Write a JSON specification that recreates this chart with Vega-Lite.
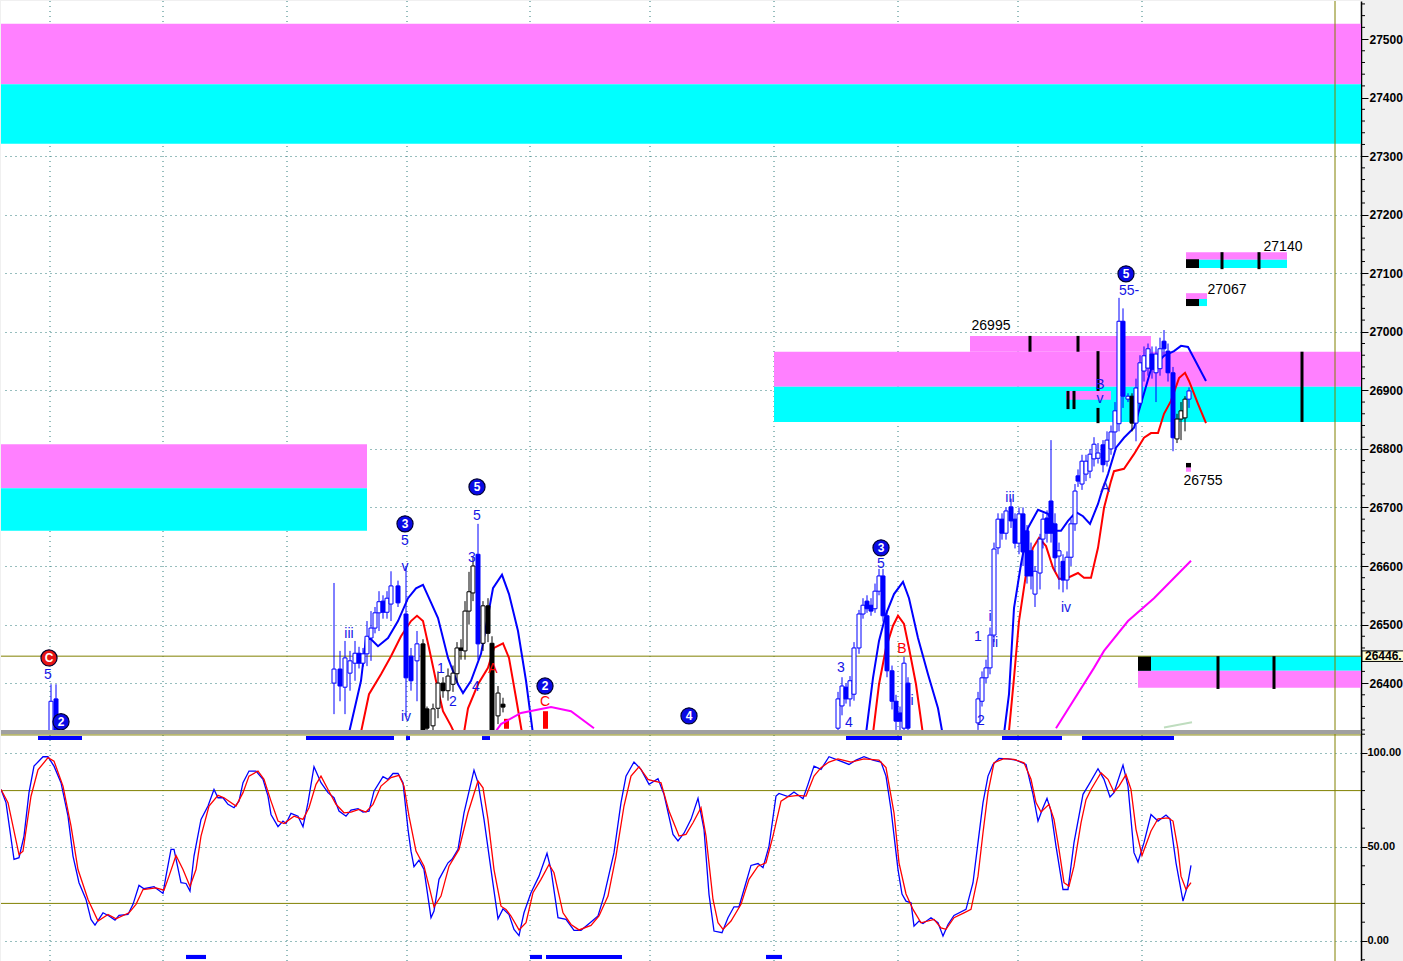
{
"$schema": "https://vega.github.io/schema/vega-lite/v6.json",
"padding": 0,
"autosize": {"type": "pad"},
"background": "#F0F0F0",
"spacing": 0,
"bounds": "flush",
"config": {
  "view": {"stroke": null, "fill": "#FFFFFF"},
  "axis": {"labelFont": "Liberation Sans", "labelFontWeight": "bold", "labelFontSize": 12, "labelColor": "#000000", "domainColor": "#000000", "domainWidth": 1.5, "tickColor": "#000000", "tickSize": 7, "labelPadding": 1, "gridColor": "#2E7D7D", "gridDash": [1, 4], "gridWidth": 1},
  "text": {"font": "Liberation Sans"}
},
"datasets": {
  "vgrid": [{"t":49},{"t":162},{"t":286},{"t":406},{"t":529},{"t":649},{"t":773},{"t":897},{"t":1017},{"t":1141}],
  "minorP": [{"p":26320},{"p":26340},{"p":26360},{"p":26380},{"p":26420},{"p":26440},{"p":26460},{"p":26480},{"p":26520},{"p":26540},{"p":26560},{"p":26580},{"p":26620},{"p":26640},{"p":26660},{"p":26680},{"p":26720},{"p":26740},{"p":26760},{"p":26780},{"p":26820},{"p":26840},{"p":26860},{"p":26880},{"p":26920},{"p":26940},{"p":26960},{"p":26980},{"p":27020},{"p":27040},{"p":27060},{"p":27080},{"p":27120},{"p":27140},{"p":27160},{"p":27180},{"p":27220},{"p":27240},{"p":27260},{"p":27280},{"p":27320},{"p":27340},{"p":27360},{"p":27380},{"p":27420},{"p":27440},{"p":27460},{"p":27480},{"p":27520},{"p":27540},{"p":27560}],
  "minorS": [{"v":-10},{"v":10},{"v":20},{"v":30},{"v":40},{"v":60},{"v":70},{"v":80},{"v":90},{"v":110}],
  "zones": [
    {"t1":0,"t2":1360,"p1":27423,"p2":27526,"k":"m"},
    {"t1":0,"t2":1360,"p1":27321,"p2":27423,"k":"c"},
    {"t1":0,"t2":366,"p1":26733,"p2":26808,"k":"m"},
    {"t1":0,"t2":366,"p1":26660,"p2":26733,"k":"c"},
    {"t1":773,"t2":1360,"p1":26906,"p2":26966,"k":"m"},
    {"t1":773,"t2":1360,"p1":26846,"p2":26906,"k":"c"},
    {"t1":969,"t2":1150,"p1":26966,"p2":26993,"k":"m"},
    {"t1":1065,"t2":1110,"p1":26884,"p2":26899,"k":"m"},
    {"t1":1185,"t2":1286,"p1":27123,"p2":27136,"k":"m"},
    {"t1":1198,"t2":1286,"p1":27109,"p2":27123,"k":"c"},
    {"t1":1185,"t2":1198,"p1":27109,"p2":27124,"k":"k"},
    {"t1":1185,"t2":1206,"p1":27056,"p2":27066,"k":"m"},
    {"t1":1198,"t2":1206,"p1":27044,"p2":27056,"k":"c"},
    {"t1":1185,"t2":1198,"p1":27044,"p2":27056,"k":"k"},
    {"t1":1185,"t2":1190,"p1":26768,"p2":26776,"k":"k"},
    {"t1":1185,"t2":1190,"p1":26761,"p2":26768,"k":"m"},
    {"t1":1137,"t2":1360,"p1":26421,"p2":26446,"k":"c"},
    {"t1":1137,"t2":1360,"p1":26392,"p2":26421,"k":"m"},
    {"t1":1137,"t2":1150,"p1":26421,"p2":26446,"k":"k"},
    {"t1":503,"t2":508,"p1":26322,"p2":26339,"k":"r"},
    {"t1":542,"t2":547,"p1":26322,"p2":26352,"k":"r"}
  ],
  "ticks": [
    {"t":1029,"p1":26966,"p2":26993},
    {"t":1077,"p1":26966,"p2":26993},
    {"t":1067,"p1":26868,"p2":26899},
    {"t":1073,"p1":26868,"p2":26899},
    {"t":1097,"p1":26899,"p2":26967},
    {"t":1097,"p1":26844,"p2":26870},
    {"t":1301,"p1":26846,"p2":26966},
    {"t":1221,"p1":27107,"p2":27136},
    {"t":1258,"p1":27107,"p2":27136},
    {"t":1217,"p1":26390,"p2":26446},
    {"t":1273,"p1":26390,"p2":26446}
  ],
  "bands": [
    {"s":"uA","kind":"hi","t":346,"p":26300},{"s":"uA","kind":"hi","t":360,"p":26404},{"s":"uA","kind":"hi","t":365,"p":26477},{"s":"uA","kind":"hi","t":370,"p":26475},{"s":"uA","kind":"hi","t":377,"p":26463},{"s":"uA","kind":"hi","t":387,"p":26477},{"s":"uA","kind":"hi","t":397,"p":26506},{"s":"uA","kind":"hi","t":407,"p":26545},{"s":"uA","kind":"hi","t":415,"p":26562},{"s":"uA","kind":"hi","t":422,"p":26568},{"s":"uA","kind":"hi","t":427,"p":26549},{"s":"uA","kind":"hi","t":437,"p":26511},{"s":"uA","kind":"hi","t":447,"p":26443},{"s":"uA","kind":"hi","t":457,"p":26398},{"s":"uA","kind":"hi","t":462,"p":26383},{"s":"uA","kind":"hi","t":470,"p":26404},{"s":"uA","kind":"hi","t":480,"p":26450},{"s":"uA","kind":"hi","t":492,"p":26562},{"s":"uA","kind":"hi","t":501,"p":26585},{"s":"uA","kind":"hi","t":508,"p":26552},{"s":"uA","kind":"hi","t":517,"p":26489},{"s":"uA","kind":"hi","t":525,"p":26404},{"s":"uA","kind":"hi","t":533,"p":26300},
    {"s":"lA","kind":"lo","t":358,"p":26300},{"s":"lA","kind":"lo","t":368,"p":26381},{"s":"lA","kind":"lo","t":380,"p":26415},{"s":"lA","kind":"lo","t":390,"p":26446},{"s":"lA","kind":"lo","t":400,"p":26480},{"s":"lA","kind":"lo","t":410,"p":26506},{"s":"lA","kind":"lo","t":416,"p":26515},{"s":"lA","kind":"lo","t":422,"p":26506},{"s":"lA","kind":"lo","t":428,"p":26460},{"s":"lA","kind":"lo","t":435,"p":26404},{"s":"lA","kind":"lo","t":442,"p":26352},{"s":"lA","kind":"lo","t":450,"p":26327},{"s":"lA","kind":"lo","t":456,"p":26305},{"s":"lA","kind":"lo","t":462,"p":26305},{"s":"lA","kind":"lo","t":467,"p":26357},{"s":"lA","kind":"lo","t":477,"p":26398},{"s":"lA","kind":"lo","t":487,"p":26426},{"s":"lA","kind":"lo","t":493,"p":26460},{"s":"lA","kind":"lo","t":502,"p":26468},{"s":"lA","kind":"lo","t":508,"p":26443},{"s":"lA","kind":"lo","t":515,"p":26375},{"s":"lA","kind":"lo","t":522,"p":26305},
    {"s":"uB","kind":"hi","t":864,"p":26300},{"s":"uB","kind":"hi","t":872,"p":26409},{"s":"uB","kind":"hi","t":878,"p":26472},{"s":"uB","kind":"hi","t":885,"p":26518},{"s":"uB","kind":"hi","t":893,"p":26552},{"s":"uB","kind":"hi","t":902,"p":26573},{"s":"uB","kind":"hi","t":908,"p":26545},{"s":"uB","kind":"hi","t":917,"p":26477},{"s":"uB","kind":"hi","t":927,"p":26415},{"s":"uB","kind":"hi","t":937,"p":26357},{"s":"uB","kind":"hi","t":943,"p":26300},
    {"s":"lB","kind":"lo","t":871,"p":26300},{"s":"lB","kind":"lo","t":878,"p":26398},{"s":"lB","kind":"lo","t":885,"p":26460},{"s":"lB","kind":"lo","t":892,"p":26498},{"s":"lB","kind":"lo","t":897,"p":26515},{"s":"lB","kind":"lo","t":903,"p":26501},{"s":"lB","kind":"lo","t":908,"p":26460},{"s":"lB","kind":"lo","t":915,"p":26398},{"s":"lB","kind":"lo","t":923,"p":26300},
    {"s":"uC","kind":"hi","t":1002,"p":26300},{"s":"uC","kind":"hi","t":1008,"p":26381},{"s":"uC","kind":"hi","t":1013,"p":26528},{"s":"uC","kind":"hi","t":1020,"p":26603},{"s":"uC","kind":"hi","t":1027,"p":26665},{"s":"uC","kind":"hi","t":1037,"p":26696},{"s":"uC","kind":"hi","t":1047,"p":26689},{"s":"uC","kind":"hi","t":1055,"p":26660},{"s":"uC","kind":"hi","t":1060,"p":26660},{"s":"uC","kind":"hi","t":1067,"p":26677},{"s":"uC","kind":"hi","t":1075,"p":26692},{"s":"uC","kind":"hi","t":1082,"p":26685},{"s":"uC","kind":"hi","t":1089,"p":26672},{"s":"uC","kind":"hi","t":1097,"p":26706},{"s":"uC","kind":"hi","t":1100,"p":26723},{"s":"uC","kind":"hi","t":1107,"p":26757},{"s":"uC","kind":"hi","t":1115,"p":26802},{"s":"uC","kind":"hi","t":1123,"p":26819},{"s":"uC","kind":"hi","t":1133,"p":26836},{"s":"uC","kind":"hi","t":1140,"p":26877},{"s":"uC","kind":"hi","t":1150,"p":26936},{"s":"uC","kind":"hi","t":1163,"p":26959},{"s":"uC","kind":"hi","t":1173,"p":26967},{"s":"uC","kind":"hi","t":1180,"p":26976},{"s":"uC","kind":"hi","t":1187,"p":26974},{"s":"uC","kind":"hi","t":1193,"p":26955},{"s":"uC","kind":"hi","t":1205,"p":26916},
    {"s":"lC","kind":"lo","t":1007,"p":26300},{"s":"lC","kind":"lo","t":1013,"p":26409},{"s":"lC","kind":"lo","t":1018,"p":26506},{"s":"lC","kind":"lo","t":1025,"p":26586},{"s":"lC","kind":"lo","t":1032,"p":26631},{"s":"lC","kind":"lo","t":1038,"p":26648},{"s":"lC","kind":"lo","t":1045,"p":26634},{"s":"lC","kind":"lo","t":1052,"p":26597},{"s":"lC","kind":"lo","t":1058,"p":26578},{"s":"lC","kind":"lo","t":1067,"p":26580},{"s":"lC","kind":"lo","t":1077,"p":26588},{"s":"lC","kind":"lo","t":1083,"p":26580},{"s":"lC","kind":"lo","t":1090,"p":26580},{"s":"lC","kind":"lo","t":1097,"p":26631},{"s":"lC","kind":"lo","t":1103,"p":26699},{"s":"lC","kind":"lo","t":1110,"p":26745},{"s":"lC","kind":"lo","t":1113,"p":26762},{"s":"lC","kind":"lo","t":1123,"p":26766},{"s":"lC","kind":"lo","t":1133,"p":26791},{"s":"lC","kind":"lo","t":1143,"p":26819},{"s":"lC","kind":"lo","t":1150,"p":26827},{"s":"lC","kind":"lo","t":1157,"p":26827},{"s":"lC","kind":"lo","t":1163,"p":26860},{"s":"lC","kind":"lo","t":1170,"p":26882},{"s":"lC","kind":"lo","t":1178,"p":26921},{"s":"lC","kind":"lo","t":1184,"p":26930},{"s":"lC","kind":"lo","t":1188,"p":26916},{"s":"lC","kind":"lo","t":1197,"p":26877},{"s":"lC","kind":"lo","t":1205,"p":26844},
    {"s":"mA","kind":"ma","t":495,"p":26318},{"s":"mA","kind":"ma","t":500,"p":26330},{"s":"mA","kind":"ma","t":520,"p":26349},{"s":"mA","kind":"ma","t":550,"p":26359},{"s":"mA","kind":"ma","t":570,"p":26352},{"s":"mA","kind":"ma","t":593,"p":26323},
    {"s":"mB","kind":"ma","t":1055,"p":26323},{"s":"mB","kind":"ma","t":1093,"p":26426},{"s":"mB","kind":"ma","t":1103,"p":26455},{"s":"mB","kind":"ma","t":1127,"p":26506},{"s":"mB","kind":"ma","t":1153,"p":26545},{"s":"mB","kind":"ma","t":1190,"p":26609},
    {"s":"gA","kind":"aux","t":1163,"p":26324},{"s":"gA","kind":"aux","t":1191,"p":26333}
  ],
  "candles": [
    {"t":50,"o":26316,"h":26398,"l":26300,"c":26369,"g":"b"},
    {"t":55,"o":26373,"h":26398,"l":26300,"c":26310,"g":"b"},
    {"t":333,"o":26400,"h":26571,"l":26347,"c":26424,"g":"b"},
    {"t":339,"o":26424,"h":26455,"l":26369,"c":26395,"g":"b"},
    {"t":344,"o":26393,"h":26472,"l":26347,"c":26443,"g":"b"},
    {"t":349,"o":26417,"h":26455,"l":26387,"c":26438,"g":"b"},
    {"t":354,"o":26434,"h":26472,"l":26404,"c":26451,"g":"b"},
    {"t":358,"o":26451,"h":26462,"l":26425,"c":26434,"g":"b"},
    {"t":362,"o":26434,"h":26460,"l":26428,"c":26450,"g":"b"},
    {"t":366,"o":26450,"h":26506,"l":26429,"c":26480,"g":"b"},
    {"t":370,"o":26477,"h":26523,"l":26438,"c":26494,"g":"b"},
    {"t":374,"o":26494,"h":26530,"l":26485,"c":26520,"g":"b"},
    {"t":378,"o":26520,"h":26557,"l":26489,"c":26539,"g":"b"},
    {"t":382,"o":26540,"h":26550,"l":26510,"c":26521,"g":"b"},
    {"t":386,"o":26521,"h":26557,"l":26510,"c":26545,"g":"b"},
    {"t":390,"o":26535,"h":26591,"l":26506,"c":26566,"g":"b"},
    {"t":397,"o":26566,"h":26575,"l":26530,"c":26537,"g":"b"},
    {"t":405,"o":26518,"h":26600,"l":26344,"c":26409,"g":"b"},
    {"t":410,"o":26446,"h":26460,"l":26387,"c":26404,"g":"b"},
    {"t":416,"o":26438,"h":26489,"l":26369,"c":26467,"g":"b"},
    {"t":422,"o":26467,"h":26475,"l":26290,"c":26300,"g":"k"},
    {"t":426,"o":26356,"h":26360,"l":26310,"c":26323,"g":"k"},
    {"t":432,"o":26327,"h":26365,"l":26310,"c":26356,"g":"k"},
    {"t":437,"o":26357,"h":26420,"l":26340,"c":26400,"g":"k"},
    {"t":442,"o":26400,"h":26410,"l":26375,"c":26387,"g":"k"},
    {"t":447,"o":26387,"h":26425,"l":26370,"c":26412,"g":"k"},
    {"t":452,"o":26398,"h":26430,"l":26385,"c":26417,"g":"k"},
    {"t":456,"o":26416,"h":26470,"l":26400,"c":26460,"g":"k"},
    {"t":460,"o":26460,"h":26475,"l":26440,"c":26456,"g":"k"},
    {"t":464,"o":26455,"h":26540,"l":26440,"c":26523,"g":"k"},
    {"t":468,"o":26523,"h":26590,"l":26500,"c":26556,"g":"k"},
    {"t":472,"o":26554,"h":26615,"l":26540,"c":26600,"g":"k"},
    {"t":477,"o":26620,"h":26672,"l":26440,"c":26467,"g":"b"},
    {"t":482,"o":26468,"h":26540,"l":26455,"c":26532,"g":"k"},
    {"t":487,"o":26532,"h":26545,"l":26470,"c":26485,"g":"k"},
    {"t":491,"o":26468,"h":26480,"l":26300,"c":26310,"g":"k"},
    {"t":497,"o":26344,"h":26395,"l":26330,"c":26383,"g":"k"},
    {"t":502,"o":26364,"h":26375,"l":26350,"c":26359,"g":"k"},
    {"t":837,"o":26323,"h":26385,"l":26310,"c":26373,"g":"b"},
    {"t":841,"o":26361,"h":26410,"l":26345,"c":26395,"g":"b"},
    {"t":845,"o":26393,"h":26400,"l":26365,"c":26373,"g":"b"},
    {"t":849,"o":26373,"h":26412,"l":26360,"c":26404,"g":"b"},
    {"t":853,"o":26381,"h":26470,"l":26370,"c":26460,"g":"b"},
    {"t":858,"o":26460,"h":26525,"l":26450,"c":26518,"g":"b"},
    {"t":862,"o":26518,"h":26545,"l":26510,"c":26533,"g":"b"},
    {"t":866,"o":26540,"h":26550,"l":26520,"c":26527,"g":"b"},
    {"t":870,"o":26533,"h":26545,"l":26515,"c":26523,"g":"b"},
    {"t":874,"o":26527,"h":26570,"l":26520,"c":26557,"g":"b"},
    {"t":878,"o":26557,"h":26595,"l":26550,"c":26583,"g":"b"},
    {"t":882,"o":26583,"h":26595,"l":26505,"c":26515,"g":"b"},
    {"t":886,"o":26515,"h":26525,"l":26410,"c":26421,"g":"b"},
    {"t":891,"o":26421,"h":26430,"l":26355,"c":26369,"g":"b"},
    {"t":895,"o":26369,"h":26380,"l":26320,"c":26335,"g":"b"},
    {"t":899,"o":26349,"h":26360,"l":26315,"c":26335,"g":"b"},
    {"t":903,"o":26323,"h":26445,"l":26310,"c":26434,"g":"b"},
    {"t":907,"o":26400,"h":26410,"l":26310,"c":26323,"g":"b"},
    {"t":977,"o":26332,"h":26385,"l":26320,"c":26373,"g":"b"},
    {"t":981,"o":26369,"h":26420,"l":26360,"c":26409,"g":"b"},
    {"t":985,"o":26409,"h":26440,"l":26400,"c":26426,"g":"b"},
    {"t":989,"o":26426,"h":26495,"l":26415,"c":26482,"g":"b"},
    {"t":993,"o":26482,"h":26640,"l":26470,"c":26629,"g":"b"},
    {"t":997,"o":26631,"h":26690,"l":26620,"c":26680,"g":"b"},
    {"t":1001,"o":26680,"h":26690,"l":26645,"c":26656,"g":"b"},
    {"t":1005,"o":26656,"h":26700,"l":26645,"c":26694,"g":"b"},
    {"t":1010,"o":26701,"h":26715,"l":26665,"c":26677,"g":"b"},
    {"t":1014,"o":26680,"h":26690,"l":26630,"c":26639,"g":"b"},
    {"t":1018,"o":26639,"h":26700,"l":26620,"c":26689,"g":"b"},
    {"t":1022,"o":26689,"h":26700,"l":26600,"c":26624,"g":"b"},
    {"t":1026,"o":26660,"h":26670,"l":26570,"c":26583,"g":"b"},
    {"t":1030,"o":26626,"h":26640,"l":26560,"c":26583,"g":"b"},
    {"t":1034,"o":26552,"h":26600,"l":26530,"c":26591,"g":"b"},
    {"t":1039,"o":26588,"h":26655,"l":26560,"c":26646,"g":"b"},
    {"t":1042,"o":26646,"h":26690,"l":26630,"c":26680,"g":"b"},
    {"t":1046,"o":26682,"h":26695,"l":26640,"c":26656,"g":"b"},
    {"t":1050,"o":26711,"h":26815,"l":26640,"c":26656,"g":"b"},
    {"t":1054,"o":26672,"h":26690,"l":26590,"c":26614,"g":"b"},
    {"t":1058,"o":26617,"h":26640,"l":26560,"c":26626,"g":"b"},
    {"t":1062,"o":26608,"h":26620,"l":26555,"c":26576,"g":"b"},
    {"t":1066,"o":26576,"h":26625,"l":26560,"c":26615,"g":"b"},
    {"t":1070,"o":26615,"h":26680,"l":26600,"c":26672,"g":"b"},
    {"t":1074,"o":26672,"h":26740,"l":26660,"c":26728,"g":"b"},
    {"t":1077,"o":26754,"h":26765,"l":26735,"c":26745,"g":"b"},
    {"t":1081,"o":26740,"h":26790,"l":26730,"c":26779,"g":"b"},
    {"t":1085,"o":26757,"h":26790,"l":26745,"c":26779,"g":"b"},
    {"t":1089,"o":26762,"h":26800,"l":26750,"c":26791,"g":"b"},
    {"t":1093,"o":26783,"h":26820,"l":26770,"c":26808,"g":"b"},
    {"t":1097,"o":26784,"h":26810,"l":26775,"c":26793,"g":"b"},
    {"t":1102,"o":26807,"h":26815,"l":26760,"c":26773,"g":"b"},
    {"t":1106,"o":26779,"h":26830,"l":26770,"c":26815,"g":"b"},
    {"t":1110,"o":26800,"h":26840,"l":26790,"c":26829,"g":"b"},
    {"t":1114,"o":26829,"h":26880,"l":26800,"c":26865,"g":"b"},
    {"t":1118,"o":26843,"h":27058,"l":26830,"c":27018,"g":"b"},
    {"t":1122,"o":27018,"h":27040,"l":26870,"c":26890,"g":"b"},
    {"t":1127,"o":26885,"h":26895,"l":26880,"c":26890,"g":"b"},
    {"t":1131,"o":26890,"h":26895,"l":26830,"c":26844,"g":"k"},
    {"t":1135,"o":26844,"h":26920,"l":26813,"c":26904,"g":"b"},
    {"t":1139,"o":26878,"h":26960,"l":26870,"c":26947,"g":"b"},
    {"t":1143,"o":26933,"h":26975,"l":26915,"c":26959,"g":"b"},
    {"t":1147,"o":26938,"h":26980,"l":26925,"c":26971,"g":"b"},
    {"t":1151,"o":26962,"h":26975,"l":26920,"c":26936,"g":"b"},
    {"t":1155,"o":26930,"h":26975,"l":26880,"c":26962,"g":"b"},
    {"t":1159,"o":26937,"h":26990,"l":26925,"c":26971,"g":"b"},
    {"t":1163,"o":26984,"h":27003,"l":26960,"c":26971,"g":"b"},
    {"t":1167,"o":26967,"h":26980,"l":26915,"c":26930,"g":"b"},
    {"t":1172,"o":26930,"h":26940,"l":26796,"c":26819,"g":"b"},
    {"t":1176,"o":26817,"h":26860,"l":26810,"c":26851,"g":"k"},
    {"t":1180,"o":26851,"h":26880,"l":26815,"c":26865,"g":"k"},
    {"t":1184,"o":26853,"h":26890,"l":26830,"c":26885,"g":"k"},
    {"t":1188,"o":26885,"h":26905,"l":26870,"c":26899,"g":"b"}
  ],
  "labels": [
    {"t":47,"p":26414,"txt":"5","k":"wave"},
    {"t":348,"p":26484,"txt":"iii","k":"wave"},
    {"t":404,"p":26643,"txt":"5","k":"wave"},
    {"t":404,"p":26598,"txt":"v","k":"wave"},
    {"t":405,"p":26342,"txt":"iv","k":"wave"},
    {"t":440,"p":26424,"txt":"1","k":"wave"},
    {"t":452,"p":26368,"txt":"2","k":"wave"},
    {"t":471,"p":26614,"txt":"3","k":"wave"},
    {"t":476,"p":26685,"txt":"5","k":"wave"},
    {"t":475,"p":26393,"txt":"4","k":"wave"},
    {"t":840,"p":26426,"txt":"3","k":"wave"},
    {"t":848,"p":26332,"txt":"4","k":"wave"},
    {"t":880,"p":26603,"txt":"5","k":"wave"},
    {"t":911,"p":26369,"txt":"i","k":"wave"},
    {"t":977,"p":26479,"txt":"1","k":"wave"},
    {"t":980,"p":26335,"txt":"2","k":"wave"},
    {"t":989,"p":26513,"txt":"i","k":"wave"},
    {"t":994,"p":26468,"txt":"ii","k":"wave"},
    {"t":1009,"p":26716,"txt":"iii","k":"wave"},
    {"t":1065,"p":26528,"txt":"iv","k":"wave"},
    {"t":1104,"p":26733,"txt":"A","k":"wave"},
    {"t":1099,"p":26909,"txt":"B","k":"wave"},
    {"t":1099,"p":26885,"txt":"v","k":"wave"},
    {"t":1128,"p":27070,"txt":"55-","k":"wave"},
    {"t":492,"p":26424,"txt":"A","k":"corr"},
    {"t":901,"p":26458,"txt":"B","k":"corr"},
    {"t":544,"p":26368,"txt":"C","k":"corr"},
    {"t":990,"p":27010,"txt":"26995","k":"level"},
    {"t":1282,"p":27145,"txt":"27140","k":"level"},
    {"t":1226,"p":27071,"txt":"27067","k":"level"},
    {"t":1202,"p":26745,"txt":"26755","k":"level"}
  ],
  "circles": [
    {"t":404,"p":26672,"txt":"3","k":"up"},
    {"t":476,"p":26735,"txt":"5","k":"up"},
    {"t":544,"p":26395,"txt":"2","k":"up"},
    {"t":688,"p":26344,"txt":"4","k":"up"},
    {"t":880,"p":26631,"txt":"3","k":"up"},
    {"t":1125,"p":27099,"txt":"5","k":"up"},
    {"t":60,"p":26334,"txt":"2","k":"up"},
    {"t":48,"p":26443,"txt":"C","k":"down"}
  ],
  "stochK": [
    {"t":0,"v":80.6},{"t":5,"v":73.6},{"t":13,"v":43.4},{"t":18,"v":44.3},{"t":23,"v":55.8},{"t":28,"v":78.9},{"t":33,"v":93},{"t":42,"v":98},{"t":47,"v":98},{"t":53,"v":93},{"t":60,"v":84.2},{"t":67,"v":66.4},{"t":72,"v":45.2},{"t":78,"v":31},{"t":85,"v":22.1},{"t":90,"v":11.5},{"t":94,"v":8.5},{"t":102,"v":15},{"t":108,"v":13.3},{"t":114,"v":11.1},{"t":118,"v":13.6},{"t":127,"v":14.1},{"t":132,"v":19.5},{"t":138,"v":29.6},{"t":143,"v":27.8},{"t":153,"v":28.9},{"t":162,"v":25.3},{"t":165,"v":34.5},{"t":170,"v":48.7},{"t":173,"v":48.7},{"t":180,"v":31},{"t":185,"v":30.6},{"t":189,"v":26.6},{"t":193,"v":45.2},{"t":200,"v":64.7},{"t":207,"v":71.8},{"t":213,"v":80.6},{"t":217,"v":76.2},{"t":222,"v":76.2},{"t":227,"v":72.7},{"t":233,"v":70.9},{"t":238,"v":74.4},{"t":242,"v":84.2},{"t":248,"v":90.4},{"t":255,"v":90.4},{"t":262,"v":86},{"t":267,"v":77.1},{"t":270,"v":67.3},{"t":277,"v":60.8},{"t":282,"v":63.8},{"t":285,"v":62.5},{"t":290,"v":67.9},{"t":297,"v":66.4},{"t":302,"v":60.8},{"t":307,"v":73.6},{"t":313,"v":92.7},{"t":320,"v":84.2},{"t":327,"v":78.9},{"t":333,"v":76.2},{"t":338,"v":69.1},{"t":345,"v":66.4},{"t":350,"v":69.6},{"t":357,"v":70.4},{"t":362,"v":68.6},{"t":368,"v":69.1},{"t":373,"v":79.7},{"t":382,"v":87.4},{"t":387,"v":86},{"t":392,"v":89.1},{"t":397,"v":89.1},{"t":402,"v":84.2},{"t":407,"v":59.4},{"t":410,"v":47.8},{"t":413,"v":39.5},{"t":418,"v":43},{"t":423,"v":38},{"t":430,"v":12.4},{"t":433,"v":15.9},{"t":438,"v":32.8},{"t":447,"v":41.6},{"t":451,"v":43.5},{"t":457,"v":48.7},{"t":463,"v":68.2},{"t":473,"v":90.9},{"t":477,"v":84.2},{"t":483,"v":64.7},{"t":490,"v":38},{"t":497,"v":11.8},{"t":502,"v":17.1},{"t":508,"v":14.1},{"t":513,"v":6.1},{"t":518,"v":2.9},{"t":523,"v":15},{"t":530,"v":25.7},{"t":538,"v":34.5},{"t":546,"v":46.6},{"t":550,"v":38},{"t":557,"v":12.4},{"t":565,"v":11.5},{"t":573,"v":5.7},{"t":580,"v":5.7},{"t":590,"v":10.1},{"t":597,"v":13.3},{"t":603,"v":23.9},{"t":613,"v":47},{"t":620,"v":73.6},{"t":625,"v":87.7},{"t":633,"v":95.2},{"t":640,"v":91.3},{"t":648,"v":83.3},{"t":657,"v":86.3},{"t":663,"v":78},{"t":672,"v":56.7},{"t":677,"v":53.2},{"t":683,"v":57.3},{"t":690,"v":64.7},{"t":697,"v":75.9},{"t":703,"v":59.4},{"t":708,"v":24.8},{"t":713,"v":5.3},{"t":721,"v":4.4},{"t":727,"v":12.4},{"t":733,"v":18.2},{"t":738,"v":18.2},{"t":743,"v":27.4},{"t":750,"v":40.2},{"t":757,"v":41.2},{"t":762,"v":39},{"t":768,"v":50.5},{"t":775,"v":77.1},{"t":778,"v":78.5},{"t":787,"v":76.8},{"t":793,"v":79.2},{"t":802,"v":75.7},{"t":807,"v":83.3},{"t":813,"v":93},{"t":820,"v":91.3},{"t":828,"v":98},{"t":837,"v":96.2},{"t":848,"v":93.9},{"t":855,"v":96.2},{"t":863,"v":98},{"t":872,"v":96.2},{"t":880,"v":95.2},{"t":885,"v":87.7},{"t":890,"v":70},{"t":897,"v":38},{"t":901,"v":25},{"t":905,"v":21.2},{"t":910,"v":20.3},{"t":913,"v":7.9},{"t":918,"v":10.6},{"t":922,"v":9.3},{"t":930,"v":12.4},{"t":937,"v":9.7},{"t":942,"v":2.6},{"t":947,"v":8.8},{"t":953,"v":13.6},{"t":965,"v":16.8},{"t":972,"v":31},{"t":977,"v":52.3},{"t":982,"v":73.6},{"t":987,"v":87.7},{"t":992,"v":93.9},{"t":998,"v":97.1},{"t":1007,"v":96.9},{"t":1015,"v":96.2},{"t":1025,"v":93.9},{"t":1032,"v":78},{"t":1037,"v":63.8},{"t":1042,"v":70.9},{"t":1046,"v":75.9},{"t":1050,"v":69.1},{"t":1055,"v":50.5},{"t":1062,"v":27.4},{"t":1067,"v":27.4},{"t":1073,"v":52.3},{"t":1082,"v":78},{"t":1088,"v":83.3},{"t":1097,"v":91.6},{"t":1103,"v":86},{"t":1109,"v":76.6},{"t":1113,"v":78.9},{"t":1122,"v":93.6},{"t":1127,"v":82.4},{"t":1133,"v":47},{"t":1137,"v":42},{"t":1143,"v":52.3},{"t":1150,"v":67.3},{"t":1157,"v":63.8},{"t":1165,"v":67},{"t":1169,"v":65},{"t":1175,"v":41.6},{"t":1182,"v":21.2},{"t":1186,"v":28.4},{"t":1190,"v":40.2}
  ],
  "stochD": [
    {"t":0,"v":80.6},{"t":7,"v":73.6},{"t":18,"v":46},{"t":22,"v":47.8},{"t":30,"v":77},{"t":37,"v":91},{"t":47,"v":97.5},{"t":53,"v":95.7},{"t":62,"v":82.4},{"t":70,"v":61.2},{"t":77,"v":38},{"t":87,"v":22.1},{"t":97,"v":10.6},{"t":107,"v":14.1},{"t":115,"v":11.8},{"t":128,"v":15},{"t":135,"v":19.5},{"t":142,"v":27.4},{"t":155,"v":28.3},{"t":163,"v":27},{"t":168,"v":34.5},{"t":175,"v":45.5},{"t":182,"v":38},{"t":189,"v":29},{"t":195,"v":38},{"t":200,"v":55.8},{"t":208,"v":71.8},{"t":217,"v":77.5},{"t":223,"v":76.2},{"t":235,"v":71.8},{"t":242,"v":78.9},{"t":248,"v":87.7},{"t":257,"v":90.4},{"t":263,"v":86},{"t":270,"v":74.4},{"t":277,"v":63.8},{"t":283,"v":62.5},{"t":293,"v":66.4},{"t":302,"v":64.7},{"t":308,"v":70.9},{"t":315,"v":83.3},{"t":320,"v":87.7},{"t":327,"v":80.6},{"t":335,"v":72.7},{"t":343,"v":68.2},{"t":350,"v":68.6},{"t":358,"v":70},{"t":365,"v":68.6},{"t":372,"v":72.7},{"t":380,"v":82.4},{"t":390,"v":86.9},{"t":398,"v":88.1},{"t":403,"v":82.4},{"t":408,"v":66.4},{"t":415,"v":47.8},{"t":423,"v":39.8},{"t":428,"v":29.2},{"t":433,"v":18.2},{"t":440,"v":23.9},{"t":448,"v":39.8},{"t":458,"v":48.7},{"t":467,"v":68.2},{"t":477,"v":85.1},{"t":482,"v":81.5},{"t":487,"v":64.7},{"t":493,"v":38},{"t":500,"v":18.5},{"t":505,"v":16.8},{"t":510,"v":13.3},{"t":518,"v":5.9},{"t":525,"v":9.7},{"t":532,"v":25.7},{"t":540,"v":32.8},{"t":548,"v":40.7},{"t":553,"v":36.3},{"t":562,"v":15},{"t":570,"v":8.8},{"t":578,"v":5.9},{"t":590,"v":8.3},{"t":598,"v":13.3},{"t":607,"v":23.9},{"t":615,"v":45.2},{"t":623,"v":71.8},{"t":630,"v":87.7},{"t":638,"v":92.7},{"t":647,"v":86},{"t":653,"v":85.1},{"t":660,"v":84.2},{"t":668,"v":69.1},{"t":678,"v":55.8},{"t":685,"v":56.7},{"t":692,"v":62.9},{"t":700,"v":70.9},{"t":705,"v":55.8},{"t":712,"v":22.1},{"t":717,"v":9.7},{"t":722,"v":6.2},{"t":730,"v":10.6},{"t":740,"v":19.5},{"t":748,"v":32.8},{"t":757,"v":39.8},{"t":765,"v":41.6},{"t":772,"v":55.8},{"t":780,"v":74.4},{"t":787,"v":76.8},{"t":797,"v":77.5},{"t":805,"v":77.1},{"t":813,"v":87.7},{"t":820,"v":92.2},{"t":828,"v":95.2},{"t":837,"v":96.9},{"t":850,"v":95.2},{"t":863,"v":96.9},{"t":878,"v":96.2},{"t":885,"v":92.2},{"t":893,"v":68.2},{"t":898,"v":41.6},{"t":905,"v":25},{"t":912,"v":16.8},{"t":920,"v":9.7},{"t":933,"v":11.5},{"t":940,"v":7},{"t":945,"v":6.2},{"t":953,"v":12.4},{"t":963,"v":15},{"t":970,"v":16.8},{"t":977,"v":34.5},{"t":982,"v":57.6},{"t":987,"v":79},{"t":993,"v":94.8},{"t":1003,"v":97},{"t":1013,"v":96.6},{"t":1023,"v":94.8},{"t":1030,"v":86},{"t":1035,"v":73.6},{"t":1040,"v":68.6},{"t":1048,"v":72.7},{"t":1053,"v":64.7},{"t":1058,"v":48.7},{"t":1063,"v":31},{"t":1068,"v":29.2},{"t":1073,"v":39.8},{"t":1080,"v":62.8},{"t":1085,"v":75.2},{"t":1090,"v":80.6},{"t":1100,"v":89.5},{"t":1107,"v":86},{"t":1113,"v":79.2},{"t":1118,"v":82.4},{"t":1125,"v":88.5},{"t":1130,"v":80.6},{"t":1135,"v":59.4},{"t":1141,"v":45.5},{"t":1150,"v":58.5},{"t":1157,"v":65},{"t":1167,"v":65.5},{"t":1172,"v":63.8},{"t":1177,"v":48.7},{"t":1180,"v":34.5},{"t":1185,"v":27.4},{"t":1190,"v":31}
  ],
  "sigTop": [{"t1":37,"t2":81},{"t1":305,"t2":393},{"t1":405,"t2":409},{"t1":481,"t2":489},{"t1":845,"t2":901},{"t1":1001,"t2":1061},{"t1":1081,"t2":1173}],
  "sigBot": [{"t1":185,"t2":205},{"t1":529,"t2":541},{"t1":545,"t2":621},{"t1":765,"t2":781}]
},
"vconcat": [
  {
    "width": 1360,
    "height": 729,
    "resolve": {"scale": {"fill": "independent", "stroke": "independent", "strokeWidth": "independent"}},
    "layer": [
      {
        "data": {"name": "vgrid"},
        "mark": {"type": "rule", "color": "#2E7D7D", "strokeDash": [1, 4]},
        "encoding": {
          "x": {"field": "t", "type": "quantitative", "scale": {"domain": [0, 1360], "nice": false, "zero": false, "padding": 0}, "axis": null}
        }
      },
      {
        "data": {"name": "zones"},
        "mark": {"type": "rect", "clip": true},
        "encoding": {
          "x": {"field": "t1", "type": "quantitative", "scale": {"domain": [0, 1360], "nice": false, "zero": false, "padding": 0}, "axis": null},
          "x2": {"field": "t2"},
          "y": {"field": "p1", "type": "quantitative", "scale": {"domain": [26319.9, 27565], "nice": false, "zero": false},
            "axis": {"orient": "right", "title": null, "values": [26400,26500,26600,26700,26800,26900,27000,27100,27200,27300,27400,27500], "format": "d", "grid": true, "labelOverlap": false, "labelBound": false}},
          "y2": {"field": "p2"},
          "fill": {"field": "k", "type": "nominal", "scale": {"domain": ["m", "c", "k", "r"], "range": ["#FF80FF", "#00FFFF", "#000000", "#FF0000"]}, "legend": null}
        }
      },
      {
        "data": {"name": "minorP"},
        "mark": {"type": "rule", "clip": false, "color": "#000000", "strokeWidth": 1},
        "encoding": {
          "x": {"datum": 1360},
          "x2": {"datum": 1364},
          "y": {"field": "p", "type": "quantitative"}
        }
      },
      {
        "data": {"values": [{}]},
        "mark": {"type": "rule", "color": "#808000", "strokeWidth": 1},
        "encoding": {"y": {"datum": 26446}}
      },
      {
        "data": {"values": [{}]},
        "mark": {"type": "rule", "color": "#808000", "strokeWidth": 1},
        "encoding": {"x": {"datum": 1334}}
      },
      {
        "data": {"name": "bands"},
        "mark": {"type": "line", "clip": true},
        "encoding": {
          "x": {"field": "t", "type": "quantitative"},
          "y": {"field": "p", "type": "quantitative"},
          "detail": {"field": "s", "type": "nominal"},
          "stroke": {"field": "kind", "type": "nominal", "scale": {"domain": ["hi", "lo", "ma", "aux"], "range": ["#0000FF", "#FF0000", "#FF00FF", "#BFDDBF"]}, "legend": null},
          "strokeWidth": {"field": "kind", "type": "nominal", "scale": {"domain": ["hi", "lo", "ma", "aux"], "range": [2, 2, 1, 4]}, "legend": null}
        }
      },
      {
        "data": {"name": "candles"},
        "mark": {"type": "rule", "clip": true, "strokeWidth": 1},
        "encoding": {
          "x": {"field": "t", "type": "quantitative"},
          "y": {"field": "l", "type": "quantitative"},
          "y2": {"field": "h"},
          "stroke": {"field": "g", "type": "nominal", "scale": {"domain": ["b", "k"], "range": ["#0000FF", "#000000"]}, "legend": null}
        }
      },
      {
        "data": {"name": "candles"},
        "mark": {"type": "bar", "clip": true, "width": 4, "strokeWidth": 1, "opacity": 1, "fillOpacity": 1, "strokeOpacity": 1},
        "encoding": {
          "x": {"field": "t", "type": "quantitative"},
          "y": {"field": "o", "type": "quantitative"},
          "y2": {"field": "c"},
          "stroke": {"field": "g", "type": "nominal", "scale": {"domain": ["b", "k"], "range": ["#0000FF", "#000000"]}, "legend": null},
          "fill": {"condition": {"test": "datum.c > datum.o", "value": "#FFFFFF"}, "field": "g", "type": "nominal", "scale": {"domain": ["b", "k"], "range": ["#0000FF", "#000000"]}, "legend": null}
        }
      },
      {
        "data": {"name": "ticks"},
        "mark": {"type": "rule", "clip": true, "strokeWidth": 3, "color": "#000000"},
        "encoding": {
          "x": {"field": "t", "type": "quantitative"},
          "y": {"field": "p1", "type": "quantitative"},
          "y2": {"field": "p2"}
        }
      },
      {
        "data": {"name": "labels"},
        "mark": {"type": "text", "align": "center", "baseline": "middle", "fontSize": 14},
        "encoding": {
          "x": {"field": "t", "type": "quantitative"},
          "y": {"field": "p", "type": "quantitative"},
          "text": {"field": "txt"},
          "fill": {"field": "k", "type": "nominal", "scale": {"domain": ["wave", "corr", "level"], "range": ["#1414E6", "#FF0000", "#000000"]}, "legend": null},
          "fontSize": {"condition": {"test": "datum.k === 'level'", "value": 13}, "value": 14},
          "fontWeight": {"condition": {"test": "datum.k === 'level'", "value": "bold"}, "value": "normal"}
        }
      },
      {
        "data": {"name": "circles"},
        "mark": {"type": "point", "filled": true, "size": 260, "stroke": "#000030", "strokeWidth": 1.2, "opacity": 1},
        "encoding": {
          "x": {"field": "t", "type": "quantitative"},
          "y": {"field": "p", "type": "quantitative"},
          "fill": {"field": "k", "type": "nominal", "scale": {"domain": ["up", "down"], "range": ["#0A0AE6", "#E61414"]}, "legend": null}
        }
      },
      {
        "data": {"name": "circles"},
        "mark": {"type": "text", "align": "center", "baseline": "middle", "fontSize": 12, "fontWeight": "bold", "color": "#FFFFFF"},
        "encoding": {
          "x": {"field": "t", "type": "quantitative"},
          "y": {"field": "p", "type": "quantitative"},
          "text": {"field": "txt"}
        }
      },
      {
        "data": {"values": [{"t1": 1361, "t2": 1403, "p1": 26437, "p2": 26455}]},
        "mark": {"type": "rect", "clip": false, "fill": "#FFFFD8", "stroke": "#000000", "strokeWidth": 1},
        "encoding": {
          "x": {"field": "t1", "type": "quantitative"},
          "x2": {"field": "t2"},
          "y": {"field": "p1", "type": "quantitative"},
          "y2": {"field": "p2"}
        }
      },
      {
        "data": {"values": [{"t": 1364, "p": 26446, "lbl": "26446."}]},
        "mark": {"type": "text", "clip": false, "align": "left", "baseline": "middle", "fontSize": 12, "fontWeight": "bold", "color": "#000000"},
        "encoding": {
          "x": {"field": "t", "type": "quantitative"},
          "y": {"field": "p", "type": "quantitative"},
          "text": {"field": "lbl"}
        }
      }
    ]
  },
  {
    "width": 1360,
    "height": 232,
    "layer": [
      {
        "data": {"name": "vgrid"},
        "mark": {"type": "rule", "color": "#2E7D7D", "strokeDash": [1, 4]},
        "encoding": {
          "x": {"field": "t", "type": "quantitative", "scale": {"domain": [0, 1360], "nice": false, "zero": false, "padding": 0}, "axis": null}
        }
      },
      {
        "data": {"values": [{"v": 20}, {"v": 80}]},
        "mark": {"type": "rule", "color": "#808000", "strokeWidth": 1},
        "encoding": {
          "y": {"field": "v", "type": "quantitative", "scale": {"domain": [-11.17, 112.23], "nice": false, "zero": false},
            "axis": {"orient": "right", "title": null, "values": [0, 50, 100], "format": ".2f", "grid": true, "labelOverlap": false, "labelBound": false, "labelFontSize": 11, "tickSize": 6, "labelPadding": 0}}
        }
      },
      {
        "data": {"name": "minorS"},
        "mark": {"type": "rule", "clip": false, "color": "#000000", "strokeWidth": 1},
        "encoding": {
          "x": {"datum": 1360},
          "x2": {"datum": 1364},
          "y": {"field": "v", "type": "quantitative"}
        }
      },
      {
        "data": {"values": [{}]},
        "mark": {"type": "rule", "color": "#808000", "strokeWidth": 1},
        "encoding": {"x": {"datum": 1334}}
      },
      {
        "data": {"name": "stochK"},
        "mark": {"type": "line", "color": "#0000FF", "strokeWidth": 1.3, "clip": true},
        "encoding": {
          "x": {"field": "t", "type": "quantitative"},
          "y": {"field": "v", "type": "quantitative"}
        }
      },
      {
        "data": {"name": "stochD"},
        "mark": {"type": "line", "color": "#FF0000", "strokeWidth": 1.3, "clip": true},
        "encoding": {
          "x": {"field": "t", "type": "quantitative"},
          "y": {"field": "v", "type": "quantitative"}
        }
      },
      {
        "data": {"values": [{}]},
        "mark": {"type": "rect", "color": "#A0A0A0"},
        "encoding": {"x": {"datum": 0}, "x2": {"datum": 1360}, "y": {"datum": 110.1}, "y2": {"datum": 112.23}}
      },
      {
        "data": {"values": [{}]},
        "mark": {"type": "rule", "color": "#808000", "strokeWidth": 1},
        "encoding": {"y": {"datum": 109.6}}
      },
      {
        "data": {"name": "sigTop"},
        "mark": {"type": "rect", "color": "#0000FF"},
        "encoding": {"x": {"field": "t1", "type": "quantitative"}, "x2": {"field": "t2"}, "y": {"datum": 109.0}, "y2": {"datum": 106.9}}
      },
      {
        "data": {"name": "sigBot"},
        "mark": {"type": "rect", "color": "#0000FF"},
        "encoding": {"x": {"field": "t1", "type": "quantitative"}, "x2": {"field": "t2"}, "y": {"datum": -7.4}, "y2": {"datum": -9.6}}
      }
    ]
  }
]
}
